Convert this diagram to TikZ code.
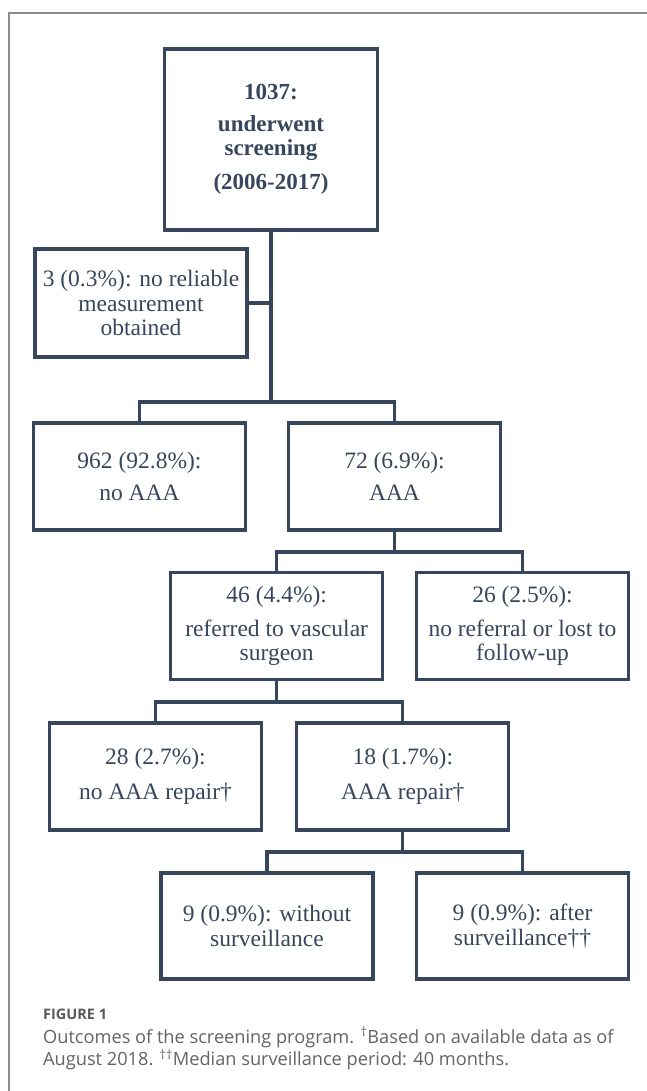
\documentclass[tikz,border=0pt]{standalone}
\usepackage{fontspec}
\setmainfont{Liberation Serif}
\newfontfamily\capfont{Open Sans}
\definecolor{ink}{RGB}{55,70,92}
\definecolor{framec}{RGB}{140,140,140}
\definecolor{capc}{RGB}{100,100,100}
\begin{document}
\begin{tikzpicture}[x=1pt,y=-1pt,
  box/.style={draw=ink, line width=3.2pt, text=ink, minimum width=212pt, minimum height=107pt,
    align=center, inner sep=0pt, font=\fontsize{23.5}{24.5}\selectfont},
  link/.style={draw=ink, line width=3.2pt},
  captext/.style={anchor=base west, inner sep=0pt, text=capc, font=\capfont\fontsize{18.2}{20}\selectfont}]
\useasboundingbox (0,0) rectangle (646,1091);
\fill[white] (0,0) rectangle (646,1091);
\draw[framec, line width=2pt] (8.5,1092) -- (8.5,13) -- (647,13);

\node[box, minimum width=213pt, minimum height=181pt, font=\fontsize{23}{24.5}\selectfont\bfseries] (top) at (271,139.5)
  {1037:\\[7pt]underwent\\screening\\[9pt](2006-2017)};
\node[box, minimum height=108pt] (nrm) at (141,303) {3 (0.3\%): no reliable\\measurement\\obtained};
\node[box] (noaaa) at (139.5,476.5) {962 (92.8\%):\\[7pt]no AAA};
\node[box] (aaa) at (394.5,476.5) {72 (6.9\%):\\[7pt]AAA};
\node[box] (ref) at (276.7,626) {46 (4.4\%):\\[9pt]referred to vascular\\surgeon};
\node[box] (noref) at (522.5,626) {26 (2.5\%):\\[9pt]no referral or lost to\\follow-up};
\node[box] (norep) at (155.5,776.5) {28 (2.7\%):\\[10pt]no AAA repair†};
\node[box] (rep) at (402.8,776.5) {18 (1.7\%):\\[10pt]AAA repair†};
\node[box, minimum height=106pt] (wos) at (267,926) {9 (0.9\%): without\\surveillance};
\node[box, minimum height=106pt] (afs) at (522.5,926) {9 (0.9\%): after\\surveillance††};

\coordinate (j1) at (271,402);
\coordinate (j2) at (394.5,552);
\coordinate (j3) at (276.7,702);
\coordinate (j4) at (402.8,852);

\draw[link] (top.south) -- (j1);
\draw[link] (nrm.east) -- (nrm.east -| j1);
\draw[link] (noaaa.north) |- (j1) -| (aaa.north);
\draw[link] (aaa.south) -- (j2);
\draw[link] (ref.north) |- (j2) -| (noref.north);
\draw[link] (ref.south) -- (j3);
\draw[link] (norep.north) |- (j3) -| (rep.north);
\draw[link] (rep.south) -- (j4);
\draw[link] (wos.north) |- (j4) -| (afs.north);

\node[captext, font=\capfont\fontsize{14.5}{16}\selectfont\bfseries, text=capc!90!black] (fig) at (43,1019) {FIGURE 1};
\node[captext] (cap1) at (43,1043) {Outcomes of the screening program. \textsuperscript{†}Based on available data as of};
\node[captext] (cap2) at (43,1065.5) {August 2018. \textsuperscript{††}Median surveillance period: 40 months.};
\end{tikzpicture}
\end{document}
